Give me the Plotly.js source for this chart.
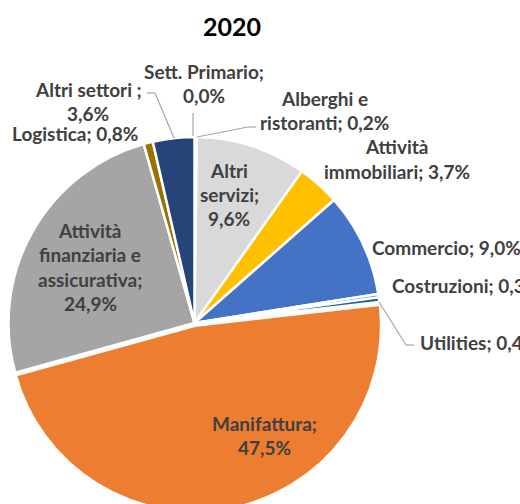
<!DOCTYPE html>
<html><head><meta charset="utf-8">
<script src="https://cdn.plot.ly/plotly-3.0.1.min.js"></script>
<style>html,body{margin:0;padding:0;overflow:hidden;background:#fff}</style>
</head><body><div id="chart"></div>
<script>
// ---- data ----
const sectors = ["Sett. Primario","Alberghi e ristoranti","Altri servizi","Attività immobiliari","Commercio","Costruzioni","Utilities","Manifattura","Attività finanziaria e assicurativa","Logistica","Altri settori"];
const shares = [0.0, 0.2, 9.6, 3.7, 9.0, 0.3, 0.4, 47.5, 24.9, 0.8, 3.6];
const chartTitle = "2020";
// label text lines (name parts); the value is appended to the last line
const labelLines = [
  ["Sett. Primario;", ""],
  ["Alberghi e", "ristoranti; "],
  ["Altri", "servizi;", ""],
  ["Attività", "immobiliari; "],
  ["Commercio; "],
  ["Costruzioni; "],
  ["Utilities; "],
  ["Manifattura;", ""],
  ["Attività", "finanziaria e", "assicurativa;", ""],
  ["Logistica; "],
  ["Altri settori ;", ""]
];

// ---- styling / positions ----
const colors = ["#70AD47","#9E480E","#D9D9D9","#FFC000","#4472C4","#5B9BD5","#255E91","#ED7D31","#A5A5A5","#997300","#264478"];
const pulls  = [0,0,0,0,0,0,0,0.015,0,0,0];
const W = 520, H = 560;
const cx = 194.5, cy = 323, R = 186, maxPull = 0.015;
const Rd = R * (1 + maxPull);
// label anchor positions in pixels: [x, yFirstLine, xanchor]
const labelPos = [
  [204, 71, "center"],
  [324, 98, "center"],
  [229, 170, "center"],
  [397, 147, "center"],
  [370, 247, "left"],
  [390, 285, "left"],
  [418, 342, "left"],
  [264, 423, "center"],
  [90, 230, "center"],
  [75, 133, "center"],
  [88, 89, "center"]
];
const lineStep = 24.5;
const leaders = [
  [[193,113],[193,136]],
  [[197,137],[248,127],[256,127]],
  [[147,93],[155,93],[174,138]],
  [[379,302],[406,345],[414,345]]
];

const px = x => x / W;
const py = y => 1 - y / H;
const fmt = v => v.toFixed(1).replace(".", ",") + "%";
const font = "Lato, 'Open Sans', sans-serif";

const annotations = [];
labelLines.forEach((lines, i) => {
  const [x, y0, anchor] = labelPos[i];
  lines.forEach((ln, j) => {
    const txt = (j === lines.length - 1) ? ln + fmt(shares[i]) : ln;
    annotations.push({
      xref: "paper", yref: "paper", x: px(x), y: py(y0 + j * lineStep),
      xanchor: anchor, yanchor: "middle", showarrow: false,
      text: "<b>" + txt + "</b>",
      font: {family: font, size: 19, color: "#404040"}
    });
  });
});
annotations.push({
  xref: "paper", yref: "paper", x: px(232), y: py(26), xanchor: "center", yanchor: "middle",
  showarrow: false, text: "<b>" + chartTitle + "</b>",
  font: {family: font, size: 25, color: "#000000"}
});

const shapes = [];
leaders.forEach(pts => {
  for (let k = 0; k < pts.length - 1; k++) {
    shapes.push({type: "line", xref: "paper", yref: "paper",
      x0: px(pts[k][0]), y0: py(pts[k][1]), x1: px(pts[k+1][0]), y1: py(pts[k+1][1]),
      line: {color: "#A6A6A6", width: 1.2}});
  }
});

const trace = {
  type: "pie", labels: sectors, values: shares, sort: false, direction: "clockwise", rotation: 0,
  marker: {colors: colors, line: {color: "#ffffff", width: 2.5}},
  pull: pulls, textinfo: "none", hoverinfo: "label+percent",
  domain: {x: [(cx - Rd) / W, (cx + Rd) / W], y: [(H - cy - Rd) / H, (H - cy + Rd) / H]}
};

Plotly.newPlot("chart", [trace], {
  width: W, height: H, margin: {l: 0, r: 0, t: 0, b: 0},
  paper_bgcolor: "#ffffff", showlegend: false,
  annotations: annotations, shapes: shapes
}, {staticPlot: true});
</script></body></html>
